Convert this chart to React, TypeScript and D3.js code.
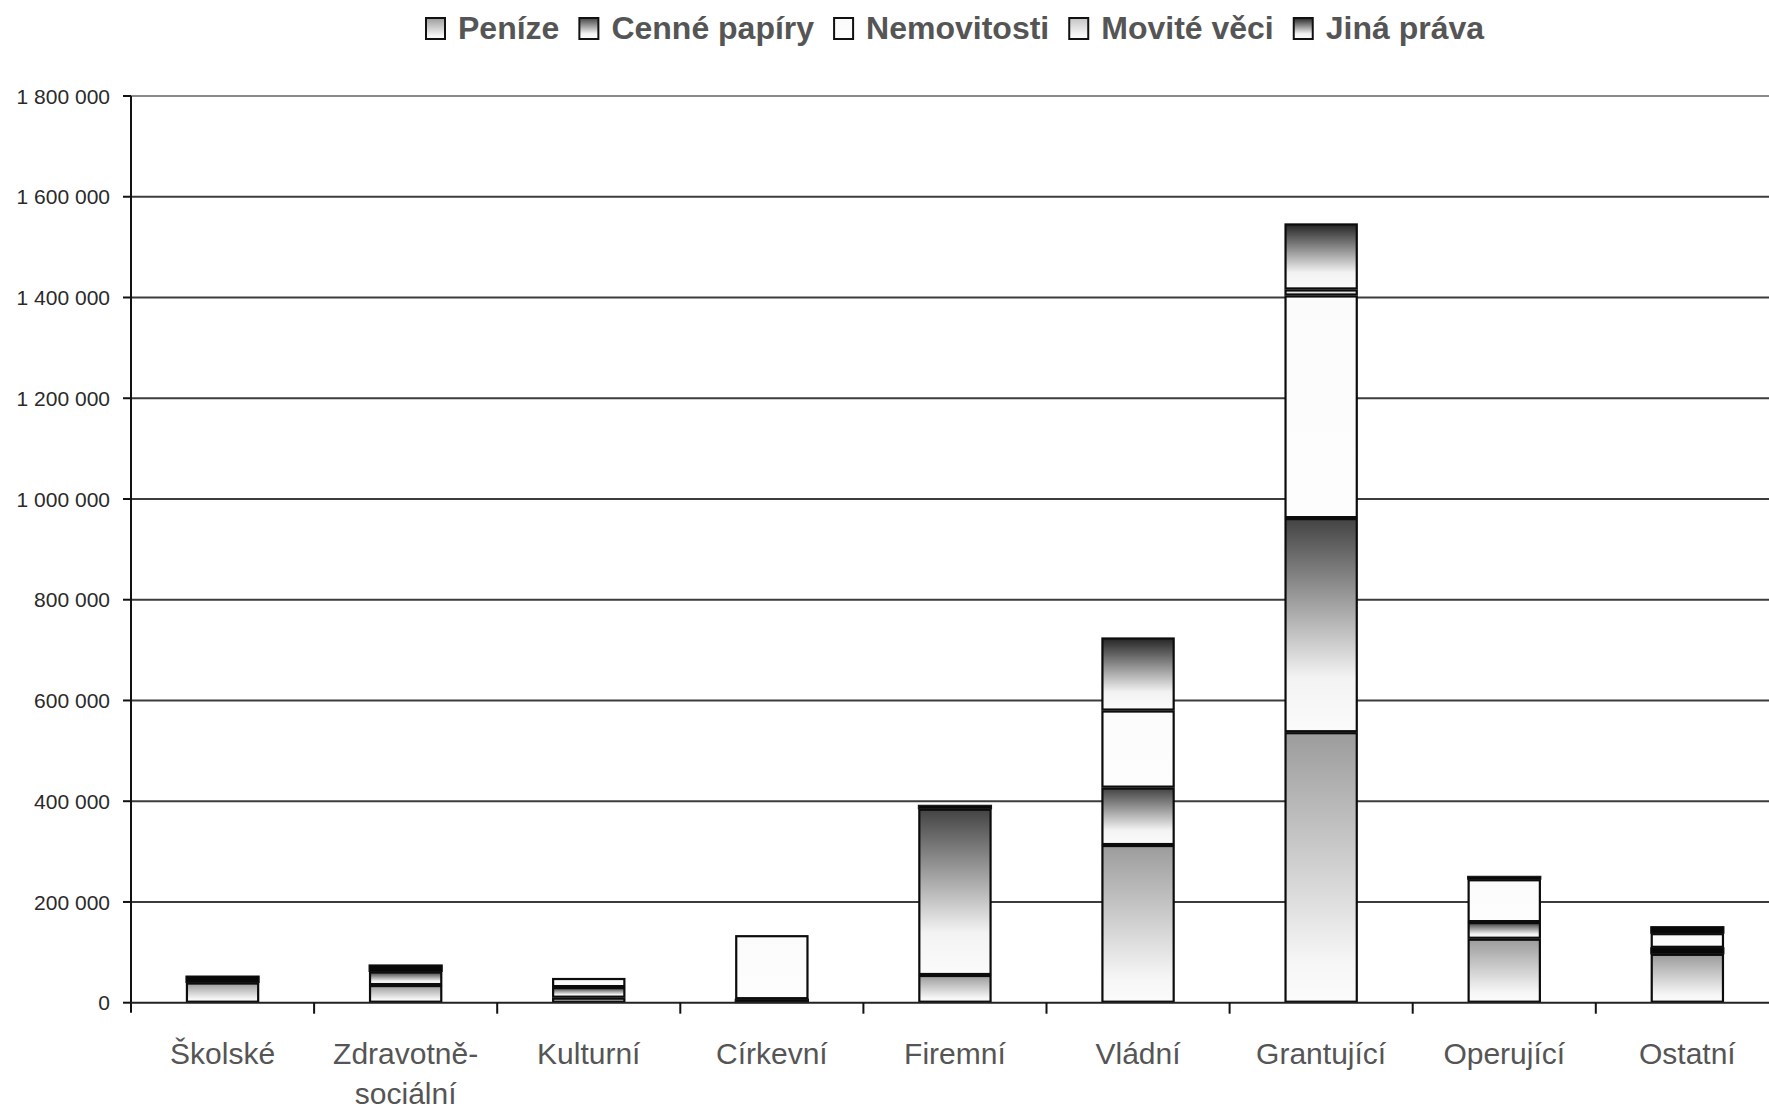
import React from "react";
import * as d3 from "d3";

const categories = [
  "Školské",
  "Zdravotně-sociální",
  "Kulturní",
  "Církevní",
  "Firemní",
  "Vládní",
  "Grantující",
  "Operující",
  "Ostatní",
];
const seriesNames = ["Peníze", "Cenné papíry", "Nemovitosti", "Movité věci", "Jiná práva"];

const penize = [40000, 35000, 10000, 3000, 55000, 313000, 537000, 127000, 97000];
const cennePapiry = [0, 27000, 21000, 4000, 330000, 114000, 425000, 33000, 12000];
const nemovitosti = [0, 0, 18000, 127000, 0, 153000, 442000, 85000, 29000];
const moviteVeci = [0, 0, 0, 0, 0, 0, 12000, 0, 0];
const jinaPrava = [13000, 13000, 0, 0, 7000, 145000, 131000, 6000, 13000];

const yTicks = [0, 200000, 400000, 600000, 800000, 1000000, 1200000, 1400000, 1600000, 1800000];
const yTickLabels = ["0", "200 000", "400 000", "600 000", "800 000", "1 000 000", "1 200 000", "1 400 000", "1 600 000", "1 800 000"];

const W = 1769;
const H = 1112;
const X0 = 131;
const STEP = 183.1;
const Y0 = 1002.7;
const YTOP = 96;
const FONT = '"Liberation Sans", Arial, Helvetica, sans-serif';

const gradStops: [number, string][][] = [
  [[0, "#9c9c9c"], [0.85, "#f6f6f6"], [1, "#fbfbfb"]],
  [[0, "#444444"], [0.75, "#f3f3f3"], [1, "#fbfbfb"]],
  [[0, "#fbfbfb"], [1, "#fdfdfd"]],
  [[0, "#c4c4c4"], [0.8, "#f6f6f6"], [1, "#fbfbfb"]],
  [[0, "#262626"], [0.75, "#f2f2f2"], [1, "#fbfbfb"]],
];
// series whose small segments render as solid dark bands
const darkSeries = [false, true, false, false, true];

function measure(text: string, font: string): number {
  const c = document.createElement("canvas").getContext("2d");
  if (!c) return text.length * 16;
  c.font = font;
  return c.measureText(text).width;
}

export default function App() {
  const seriesValues = [penize, cennePapiry, nemovitosti, moviteVeci, jinaPrava];
  const rows = categories.map((c, i) => {
    const r: Record<string, any> = { cat: c };
    seriesNames.forEach((s, k) => (r[s] = seriesValues[k][i]));
    return r;
  });
  const stacked = d3.stack<any>().keys(seriesNames)(rows as any);

  const x = d3
    .scaleBand<string>()
    .domain(categories)
    .range([X0, X0 + STEP * categories.length])
    .paddingInner(0.6)
    .paddingOuter(0.3);
  const y = d3.scaleLinear().domain([0, 1800000]).range([Y0, YTOP]);
  const bw = x.bandwidth();
  const step = x.step();

  const legendFont = `bold 32px ${FONT}`;
  let lx = 425;
  const legendItems = seriesNames.map((s, i) => {
    const w = measure(s, legendFont);
    const item = { s, i, x: lx, w };
    lx += 33 + w + 19;
    return item;
  });

  return (
    <div style={{ position: "absolute", left: 0, top: 0 }}>
      <svg width={W} height={H} style={{ display: "block", background: "#ffffff" }} fontFamily={FONT}>
        <defs>
          {gradStops.map((stops, i) => (
            <linearGradient key={i} id={`g${i}`} x1="0" y1="0" x2="0" y2="1">
              {stops.map(([o, c], j) => (
                <stop key={j} offset={o} stopColor={c} />
              ))}
            </linearGradient>
          ))}
        </defs>

        {yTicks.slice(1).map((t, i) => (
          <line
            key={t}
            x1={X0}
            x2={W}
            y1={y(t)}
            y2={y(t)}
            stroke={i === yTicks.length - 2 ? "#8a8a8a" : "#3c3c3c"}
            strokeWidth={2}
          />
        ))}

        {stacked.map((layer, k) =>
          layer.map((d, i) => {
            const v = d[1] - d[0];
            if (v <= 0) return null;
            const cat = categories[i];
            const bx = x(cat)!;
            const yt = y(d[1]);
            const yb = y(d[0]);
            const h = yb - yt;
            if (h < 2.5 || (darkSeries[k] && h < 9)) {
              return (
                <rect key={`${k}-${i}`} x={bx} y={yt} width={bw} height={h} fill="#080808" stroke="#111" strokeWidth={1} />
              );
            }
            return (
              <rect
                key={`${k}-${i}`}
                x={bx + 1}
                y={yt + 1}
                width={bw - 2}
                height={h - 2}
                fill={`url(#g${k})`}
                stroke="#0c0c0c"
                strokeWidth={2.2}
              />
            );
          })
        )}

        <line x1={X0} x2={X0} y1={YTOP} y2={Y0 + 10} stroke="#111" strokeWidth={2} />
        <line x1={X0} x2={W} y1={Y0} y2={Y0} stroke="#222" strokeWidth={2} />
        {yTicks.map((t, i) => (
          <g key={t}>
            <line x1={X0 - 8} x2={X0} y1={y(t)} y2={y(t)} stroke="#111" strokeWidth={2} />
            <text x={110} y={y(t)} dy="0.36em" textAnchor="end" fontSize={21} fill="#2a2a2a">
              {yTickLabels[i]}
            </text>
          </g>
        ))}
        {categories.map((c, i) => {
          const tx = X0 + step * (i + 1);
          return <line key={c} x1={tx} x2={tx} y1={Y0} y2={Y0 + 11} stroke="#111" strokeWidth={2} />;
        })}
        {categories.map((c) => {
          const cx = x(c)! + bw / 2;
          const lines = c.includes("-") ? [c.slice(0, c.indexOf("-") + 1), c.slice(c.indexOf("-") + 1)] : [c];
          return (
            <text key={c} x={cx} y={1064} textAnchor="middle" fontSize={30} fill="#555">
              {lines.map((ln, j) => (
                <tspan key={j} x={cx} dy={j === 0 ? 0 : 40}>
                  {ln}
                </tspan>
              ))}
            </text>
          );
        })}

        {legendItems.map((it) => (
          <g key={it.s}>
            <rect x={it.x + 1} y={18} width={19} height={21} fill={`url(#g${it.i})`} stroke="#111" strokeWidth={2} />
            <text x={it.x + 33} y={39} fontSize={32} fontWeight="bold" fill="#555">
              {it.s}
            </text>
          </g>
        ))}
      </svg>
    </div>
  );
}
